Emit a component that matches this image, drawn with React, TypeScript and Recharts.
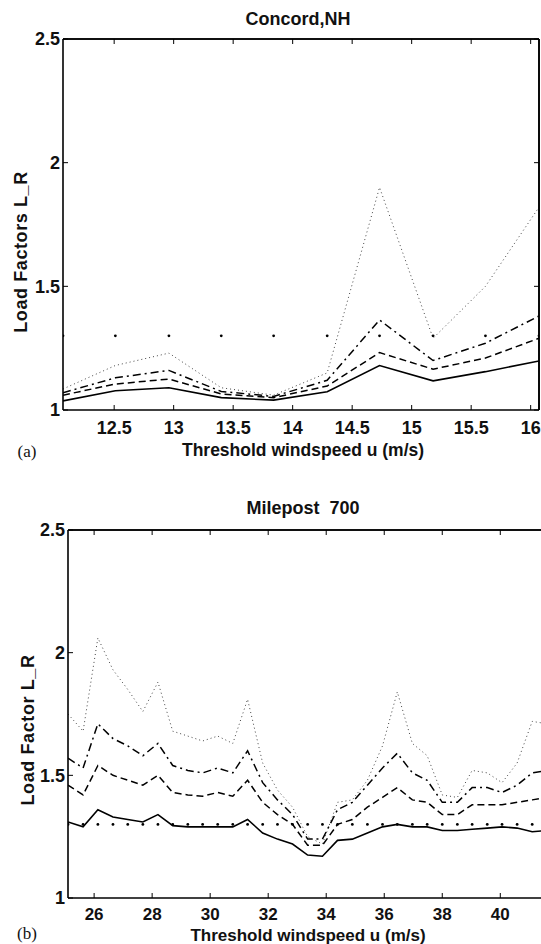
import React from 'react';
import { LineChart, Line, XAxis, YAxis, ReferenceLine } from 'recharts';

// (a) Concord, NH
const concordSpeeds = [12.07, 12.51, 12.96, 13.4, 13.84, 14.29, 14.73, 15.18, 15.62, 16.07];
const concordSolid = [1.037, 1.078, 1.09, 1.05, 1.04, 1.074, 1.18, 1.118, 1.155, 1.198];
const concordDashed = [1.06, 1.105, 1.125, 1.065, 1.05, 1.097, 1.232, 1.165, 1.21, 1.29];
const concordDashDot = [1.07, 1.13, 1.16, 1.075, 1.055, 1.12, 1.364, 1.2, 1.27, 1.38];
const concordDotted = [1.085, 1.18, 1.23, 1.09, 1.06, 1.15, 1.9, 1.29, 1.5, 1.82];
const concordRef = [1.3, 1.3, 1.3, 1.3, 1.3, 1.3, 1.3, 1.3, 1.3, 1.3];
const concordTicks = [12.5, 13, 13.5, 14, 14.5, 15, 15.5, 16];

// (b) Milepost 700
const mileSpeeds = [
  25.1, 25.62, 26.13, 26.65, 27.16, 27.68, 28.2, 28.71, 29.23, 29.74, 30.26, 30.78, 31.29,
  31.81, 32.32, 32.84, 33.36, 33.87, 34.39, 34.9, 35.42, 35.94, 36.45, 36.97, 37.48, 38.0,
  38.52, 39.03, 39.55, 40.06, 40.58, 41.1, 41.61,
];
const mileSolid = [
  1.31, 1.29, 1.36, 1.33, 1.32, 1.31, 1.34, 1.295, 1.29, 1.29, 1.29, 1.29, 1.32, 1.265, 1.24,
  1.22, 1.175, 1.17, 1.235, 1.24, 1.265, 1.29, 1.3, 1.29, 1.29, 1.275, 1.275, 1.28, 1.285, 1.29,
  1.285, 1.27, 1.275,
];
const mileDashed = [
  1.46, 1.42, 1.54, 1.5, 1.48, 1.46, 1.5, 1.43, 1.42, 1.415, 1.43, 1.415, 1.48, 1.39, 1.34,
  1.3, 1.215, 1.215, 1.3, 1.32, 1.37, 1.41, 1.45, 1.4, 1.39, 1.34, 1.34, 1.38, 1.38, 1.38,
  1.39, 1.4, 1.41,
];
const mileDashDot = [
  1.57, 1.53, 1.71, 1.65, 1.62, 1.58, 1.63, 1.54, 1.52, 1.51, 1.53, 1.51, 1.6, 1.47, 1.4,
  1.34, 1.24, 1.24, 1.36, 1.39, 1.46, 1.53, 1.59, 1.51, 1.48, 1.39, 1.39, 1.45, 1.45, 1.43,
  1.46, 1.51, 1.52,
];
const mileDotted = [
  1.75, 1.68, 2.06, 1.93, 1.85, 1.76, 1.88, 1.68, 1.66, 1.64, 1.66, 1.63, 1.81, 1.55, 1.44,
  1.37, 1.25, 1.22, 1.39, 1.4, 1.48, 1.62, 1.84, 1.63, 1.58, 1.42, 1.41, 1.52, 1.51, 1.47,
  1.55, 1.72, 1.71,
];
const mileRef = mileSpeeds.map(() => 1.3);
const mileTicks = [26, 28, 30, 32, 34, 36, 38, 40];

const loadTicks = [1, 1.5, 2, 2.5];

function buildRows(u: number[], solid: number[], dashed: number[], dashDot: number[], dotted: number[], ref: number[]) {
  return u.map((x, i) => ({
    u: x,
    solid: solid[i],
    dashed: dashed[i],
    dashDot: dashDot[i],
    dotted: dotted[i],
    ref: ref[i],
  }));
}

const concordRows = buildRows(concordSpeeds, concordSolid, concordDashed, concordDashDot, concordDotted, concordRef);
const mileRows = buildRows(mileSpeeds, mileSolid, mileDashed, mileDashDot, mileDotted, mileRef);

const FONT = '"Liberation Sans", Arial, Helvetica, sans-serif';
const axisLine = { stroke: '#000', strokeWidth: 1.6 };
const tickLine = { stroke: '#000', strokeWidth: 1 };

function tickStyle(size: number) {
  return { fontSize: size, fontWeight: 'bold' as const, fill: '#111', fontFamily: FONT };
}

function fmt(v: number) {
  return String(v);
}

function Panel({
  rows,
  width,
  height,
  top,
  plotTop,
  plotLeft,
  plotBottom,
  rightMargin,
  domain,
  ticks,
  tickGap,
  tickFont,
}: {
  rows: ReturnType<typeof buildRows>;
  width: number;
  height: number;
  top: number;
  plotTop: number;
  plotLeft: number;
  plotBottom: number;
  rightMargin: number;
  domain: [number, number];
  ticks: number[];
  tickGap: number;
  tickFont: number;
}) {
  return (
    <div style={{ position: 'absolute', left: 0, top, width, height }}>
      <LineChart
        width={width}
        height={height}
        data={rows}
        margin={{ top: plotTop - 1, right: rightMargin - 1, left: 0, bottom: 0 }}
      >
        <XAxis
          xAxisId="bottom"
          dataKey="u"
          type="number"
          domain={domain}
          ticks={ticks}
          allowDataOverflow
          tickFormatter={fmt}
          height={height - plotBottom}
          tickSize={-5}
          tickMargin={tickGap}
          axisLine={axisLine}
          tickLine={tickLine}
          tick={tickStyle(tickFont)}
        />
        <XAxis
          xAxisId="top"
          orientation="top"
          dataKey="u"
          type="number"
          domain={domain}
          ticks={ticks}
          allowDataOverflow
          height={1}
          tickSize={-5}
          axisLine={axisLine}
          tickLine={tickLine}
          tickFormatter={() => ''}
        />
        <YAxis
          yAxisId="left"
          type="number"
          domain={[1, 2.5]}
          ticks={loadTicks}
          allowDataOverflow
          tickFormatter={fmt}
          width={plotLeft}
          tickSize={-5}
          tickMargin={8}
          axisLine={axisLine}
          tickLine={tickLine}
          tick={tickStyle(18)}
        />
        <YAxis
          yAxisId="right"
          orientation="right"
          type="number"
          domain={[1, 2.5]}
          ticks={loadTicks}
          allowDataOverflow
          width={1}
          tickSize={-5}
          axisLine={axisLine}
          tickLine={tickLine}
          tickFormatter={() => ''}
        />
        <ReferenceLine xAxisId="bottom" yAxisId="left" y={2.5} stroke="#000" strokeWidth={1.6} />
        <ReferenceLine xAxisId="bottom" yAxisId="left" x={domain[1]} stroke="#000" strokeWidth={1.6} />
        <Line
          xAxisId="bottom"
          yAxisId="left"
          dataKey="dotted"
          stroke="#444"
          strokeWidth={1}
          strokeDasharray="1 3"
          dot={false}
          isAnimationActive={false}
        />
        <Line
          xAxisId="bottom"
          yAxisId="left"
          dataKey="dashDot"
          stroke="#000"
          strokeWidth={1.5}
          strokeDasharray="8 4 2 4"
          dot={false}
          isAnimationActive={false}
        />
        <Line
          xAxisId="bottom"
          yAxisId="left"
          dataKey="dashed"
          stroke="#000"
          strokeWidth={1.5}
          strokeDasharray="7 4"
          dot={false}
          isAnimationActive={false}
        />
        <Line
          xAxisId="bottom"
          yAxisId="left"
          dataKey="solid"
          stroke="#000"
          strokeWidth={1.6}
          dot={false}
          isAnimationActive={false}
        />
        <Line
          xAxisId="bottom"
          yAxisId="left"
          dataKey="ref"
          stroke="none"
          dot={{ r: 1.4, fill: '#000', stroke: 'none' }}
          isAnimationActive={false}
        />
      </LineChart>
    </div>
  );
}

const textBase: React.CSSProperties = {
  position: 'absolute',
  fontFamily: FONT,
  color: '#111',
  whiteSpace: 'pre',
  lineHeight: 1,
};

function Centered({ x, y, size, children, rotate, serif, bold, spacing }: {
  x: number;
  y: number;
  size: number;
  children: React.ReactNode;
  rotate?: boolean;
  serif?: boolean;
  bold?: boolean;
  spacing?: number;
}) {
  return (
    <div
      style={{
        ...textBase,
        left: x,
        top: y,
        fontSize: size,
        letterSpacing: spacing ?? 0,
        fontWeight: bold ? 'bold' : 'normal',
        fontFamily: serif ? '"Liberation Serif", "Times New Roman", serif' : FONT,
        transform: `translate(-50%, -50%)${rotate ? ' rotate(-90deg)' : ''}`,
      }}
    >
      {children}
    </div>
  );
}

export default function App() {
  return (
    <div
      style={{
        position: 'absolute',
        left: 0,
        top: 0,
        width: 541,
        height: 944,
        overflow: 'hidden',
        background: '#fff',
      }}
    >
      <Panel
        rows={concordRows}
        width={541}
        height={470}
        top={0}
        plotTop={39}
        plotLeft={63}
        plotBottom={410}
        rightMargin={2}
        domain={[12.07, 16.07]}
        ticks={concordTicks}
        tickGap={16}
        tickFont={18}
      />
      <Centered x={298} y={19} size={18} bold>Concord,NH</Centered>
      <Centered x={21} y={252} size={18} bold spacing={0.6} rotate>Load Factors L_R</Centered>
      <Centered x={303} y={451} size={17.5} bold>Threshold windspeed u (m/s)</Centered>
      <Centered x={27} y={451} size={17} serif>(a)</Centered>

      <Panel
        rows={mileRows}
        width={548}
        height={474}
        top={470}
        plotTop={60}
        plotLeft={68}
        plotBottom={428}
        rightMargin={1}
        domain={[25.1, 41.61]}
        ticks={mileTicks}
        tickGap={15}
        tickFont={17}
      />
      <Centered x={303} y={508} size={18} bold>Milepost  700</Centered>
      <Centered x={28} y={730} size={18} bold spacing={0.6} rotate>Load Factor L_R</Centered>
      <Centered x={308} y={935} size={17} bold>Threshold windspeed u (m/s)</Centered>
      <Centered x={27} y={933} size={17} serif>(b)</Centered>
    </div>
  );
}
